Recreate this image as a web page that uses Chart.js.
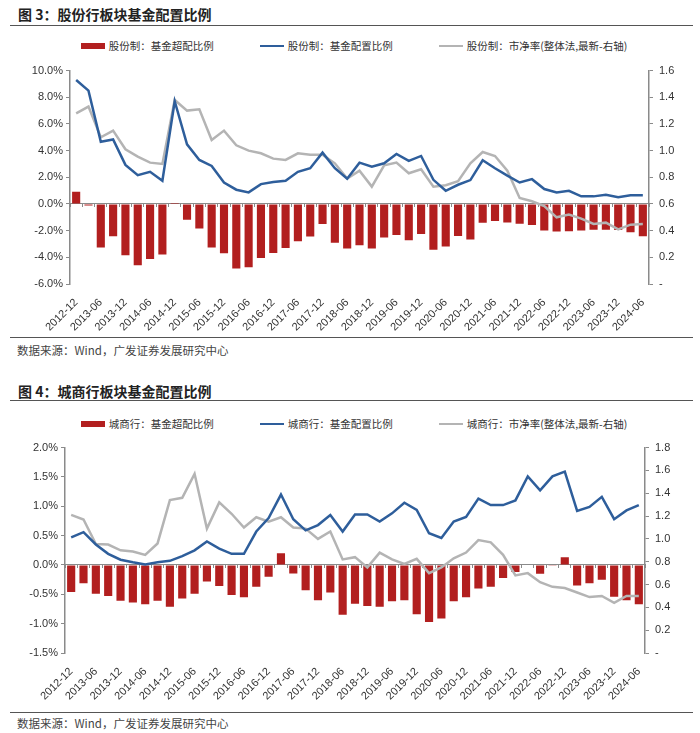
<!DOCTYPE html>
<html>
<head>
<meta charset="utf-8">
<script src="https://cdn.jsdelivr.net/npm/chart.js@4.4.1/dist/chart.umd.min.js"></script>
<style>
body{margin:0;background:#fff;width:700px;height:733px;position:relative;overflow:hidden;font-family:"Noto Sans CJK SC",sans-serif;}
.title{position:absolute;left:18px;font-size:14px;font-weight:bold;color:#222;line-height:20px;white-space:nowrap;}
.rule{position:absolute;left:10px;width:683px;height:0;border-top:1.5px solid #555;}
.src{position:absolute;left:17px;font-size:11.5px;color:#444;line-height:16px;white-space:nowrap;}
.legend{position:absolute;left:4px;width:700px;display:flex;justify-content:center;font-size:10.5px;color:#333;line-height:14px;white-space:nowrap;}
.legend .item{display:flex;align-items:center;margin:0 23px;}
.legend .sw{width:24px;margin-right:4px;}
.box{position:absolute;left:0;width:700px;}
</style>
</head>
<body>

<div class="title" style="top:4px">图 3：股份行板块基金配置比例</div>
<div class="rule" style="top:25px"></div>
<div class="legend" id="legend1" style="top:39px"></div>
<div class="box" style="top:58px"><canvas id="chart1" width="700" height="280"></canvas></div>
<div class="rule" style="top:337px"></div>
<div class="src" style="top:342px">数据来源：Wind，广发证券发展研究中心</div>

<div class="title" style="top:381px">图 4：城商行板块基金配置比例</div>
<div class="rule" style="top:400px"></div>
<div class="legend" id="legend2" style="top:417px"></div>
<div class="box" style="top:435px"><canvas id="chart2" width="700" height="272"></canvas></div>
<div class="rule" style="top:712px"></div>
<div class="src" style="top:715px">数据来源：Wind，广发证券发展研究中心</div>

<script>
var quarters = ['2012-12','2013-03','2013-06','2013-09','2013-12','2014-03','2014-06','2014-09',
    '2014-12','2015-03','2015-06','2015-09','2015-12','2016-03','2016-06','2016-09',
    '2016-12','2017-03','2017-06','2017-09','2017-12','2018-03','2018-06','2018-09',
    '2018-12','2019-03','2019-06','2019-09','2019-12','2020-03','2020-06','2020-09',
    '2020-12','2021-03','2021-06','2021-09','2021-12','2022-03','2022-06','2022-09',
    '2022-12','2023-03','2023-06','2023-09','2023-12','2024-03','2024-06'];

// 股份行 (%, %, 倍)
var jointLabels = ['股份制：基金超配比例', '股份制：基金配置比例', '股份制：市净率(整体法,最新-右轴)'];
var jointOver = [0.91,-0.12,-3.26,-2.42,-3.85,-4.59,-4.12,-3.78,0.07,-1.19,-1.83,-3.26,-3.70,-4.84,-4.74,-4.05,
    -3.68,-3.31,-2.79,-2.44,-1.51,-2.91,-3.33,-3.09,-3.33,-2.52,-2.32,-2.72,-2.25,-3.43,-3.19,-2.40,
    -2.67,-1.41,-1.28,-1.38,-1.48,-1.58,-1.98,-2.07,-2.05,-1.98,-1.93,-1.93,-1.95,-2.12,-2.42];
var jointAlloc = [9.3,8.5,4.67,4.84,2.93,2.16,2.41,1.74,7.7,4.47,3.3,2.85,1.61,1.07,0.87,1.49,
    1.64,1.74,2.41,2.68,3.85,2.68,1.89,3.1,2.8,3.05,3.75,3.23,3.6,1.81,0.99,1.44,
    1.79,3.28,2.68,2.13,1.61,1.86,1.12,0.87,0.99,0.57,0.57,0.69,0.5,0.65,0.65];
var jointPB = [1.28,1.33,1.10,1.15,1.01,0.955,0.91,0.90,1.38,1.30,1.31,1.08,1.15,1.04,1.00,0.98,
    0.94,0.93,0.98,0.97,0.97,0.905,0.79,0.85,0.73,0.89,0.91,0.83,0.86,0.73,0.74,0.77,
    0.905,0.99,0.96,0.85,0.645,0.62,0.585,0.50,0.52,0.49,0.45,0.46,0.41,0.445,0.45];

// 城商行
var cityLabels = ['城商行：基金超配比例', '城商行：基金配置比例', '城商行：市净率(整体法,最新-右轴)'];
var cityOver = [-0.46,-0.31,-0.49,-0.53,-0.61,-0.64,-0.67,-0.61,-0.71,-0.57,-0.49,-0.28,-0.36,-0.51,-0.55,-0.37,
    -0.20,0.20,-0.145,-0.43,-0.60,-0.47,-0.85,-0.66,-0.70,-0.71,-0.62,-0.60,-0.84,-0.97,-0.91,-0.62,
    -0.55,-0.40,-0.37,-0.22,-0.12,-0.01,-0.15,-0.005,0.13,-0.35,-0.31,-0.25,-0.54,-0.60,-0.67];
var cityAlloc = [0.47,0.56,0.35,0.19,0.09,0.045,0.01,0.045,0.07,0.15,0.25,0.40,0.28,0.19,0.19,0.57,
    0.80,1.20,0.78,0.59,0.68,0.85,0.57,0.86,0.86,0.74,0.88,1.06,0.94,0.54,0.46,0.74,
    0.82,1.13,1.02,1.02,1.10,1.51,1.27,1.51,1.59,0.92,0.99,1.16,0.78,0.93,1.02];
var cityPB = [1.21,1.17,0.955,0.95,0.90,0.89,0.86,0.96,1.34,1.36,1.57,1.09,1.32,1.22,1.10,1.19,
    1.15,1.19,1.10,1.09,1.00,1.065,0.82,0.84,0.75,0.88,0.82,0.78,0.825,0.70,0.75,0.83,
    0.88,0.99,0.97,0.86,0.68,0.70,0.62,0.58,0.57,0.53,0.49,0.50,0.44,0.50,0.50];

var RED = '#b21f1f', BLUE = '#2e5e9b', GRAY = '#b4b4b4', AXIS = '#8a8a8a';

Chart.defaults.font.family = '"Liberation Sans", Arial, sans-serif';
Chart.defaults.font.size = 11;
Chart.defaults.color = '#333';

function buildLegend(id, datasets){
    var el = document.getElementById(id);
    datasets.forEach(function(ds){
        var item = document.createElement('div');
        item.className = 'item';
        var sw = document.createElement('div');
        sw.className = 'sw';
        if(ds.type == 'bar'){
            sw.style.height = '6px';
            sw.style.background = ds.backgroundColor;
        } else {
            sw.style.height = '2px';
            sw.style.background = ds.borderColor;
        }
        var txt = document.createElement('span');
        txt.textContent = ds.label;
        item.appendChild(sw);
        item.appendChild(txt);
        el.appendChild(item);
    });
}

function makeChart(canvasId, legendId, labels, over, alloc, pb, opt){
    var datasets = [
        { type:'bar', label:labels[0], data:over, backgroundColor:RED, yAxisID:'y', xAxisID:'x',
          barPercentage:0.66, categoryPercentage:1, order:3 },
        { type:'line', label:labels[1], data:alloc, borderColor:BLUE, borderWidth:2.5, pointRadius:0,
          tension:0, yAxisID:'y', xAxisID:'x', order:1 },
        { type:'line', label:labels[2], data:pb, borderColor:GRAY, borderWidth:2.5, pointRadius:0,
          tension:0, yAxisID:'y1', xAxisID:'x', order:2 }
    ];
    buildLegend(legendId, datasets);

    return new Chart(document.getElementById(canvasId), {
        data: { labels: quarters, datasets: datasets },
        options: {
            responsive:false,
            devicePixelRatio:1,
            animation:false,
            layout:{ padding:{ top:10, bottom:0, left:0, right:0 } },
            plugins:{ legend:{display:false}, tooltip:{enabled:false} },
            scales:{
                x:{
                    offset:true,
                    border:{display:false},
                    grid:{display:false},
                    ticks:{
                        autoSkip:false, maxRotation:45, minRotation:45, padding:4,
                        callback:function(v, i){ return i % 2 === 0 ? quarters[i] : ''; }
                    },
                    afterFit:function(s){ s.height = 54; }
                },
                // axis line with category ticks drawn at the zero level
                xZero:{
                    type:'category', labels:quarters, position:{ y:0 }, offset:true,
                    border:{display:true, color:AXIS, width:1},
                    grid:{display:true, offset:true, drawOnChartArea:false, drawTicks:true, tickLength:3, color:AXIS},
                    ticks:{display:false}
                },
                y:{
                    position:'left', min:opt.yMin, max:opt.yMax,
                    ticks:{ stepSize:opt.yStep, padding:3,
                        callback:function(v){ return v.toFixed(1) + '%'; } },
                    border:{color:AXIS, width:1.5},
                    grid:{drawOnChartArea:false, tickLength:4, color:AXIS},
                    afterFit:function(s){ s.width = opt.left; }
                },
                y1:{
                    position:'right', min:0, max:opt.rMax,
                    ticks:{ stepSize:0.2, padding:6,
                        callback:function(v){ return Math.abs(v) < 1e-9 ? '-' : v.toFixed(1); } },
                    border:{color:AXIS, width:1.5},
                    grid:{drawOnChartArea:false, tickLength:4, color:AXIS},
                    afterFit:function(s){ s.width = opt.right; }
                }
            }
        }
    });
}

makeChart('chart1', 'legend1', jointLabels, jointOver, jointAlloc, jointPB,
    { yMin:-6, yMax:10, yStep:2, rMax:1.6, left:70, right:51 });
makeChart('chart2', 'legend2', cityLabels, cityOver, cityAlloc, cityPB,
    { yMin:-1.5, yMax:2, yStep:0.5, rMax:1.8, left:65, right:55 });
</script>
</body>
</html>
